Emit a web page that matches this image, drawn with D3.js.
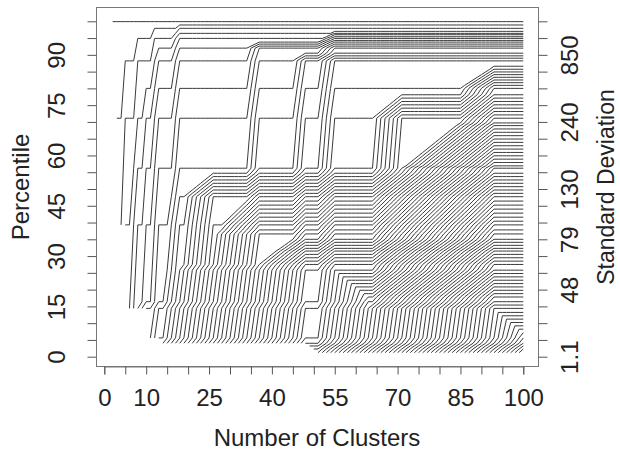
<!DOCTYPE html>
<html>
<head>
<meta charset="utf-8">
<script src="https://cdn.jsdelivr.net/npm/d3@7"></script>
<style>
  body { margin: 0; background: #fff; }
  text { font-family: "Liberation Sans", Arial, sans-serif; fill: #222; }
</style>
</head>
<body>
<div id="chart"></div>
<script>
// canvas
const width = 620,
  height = 451

// axis ticks and labels
const tickVals = d3.range(0, 101, 5)
const xLabels = [0, 10, 25, 40, 55, 70, 85, 100]
const leftLabels = [0, 15, 30, 45, 60, 75, 90]
const rightPos = [0, 20, 35, 50, 70, 90]
const rightText = ['1.1', '48', '79', '130', '240', '850']

// percentile of the cluster that appears at each number of clusters (from k = 2)
const firstK = 2
const earlyLevels = [99.9, 71.1, 39.3, 88.2, 14.4, 56.2, 94.9, 16.4, 80, 5.6,
  97.9, 92, 4, 25.8, 47.7, 96.4, 98.9, 27.5]
const midLevels = [48.7, 49.7, 50.7, 51.7, 52.7, 53.7, 54.7,
  36.6, 37.8, 40.4, 41.6, 42.8, 44, 45.2, 46.4,
  92.6, 93.2, 93.8,
  28.5, 29.5, 30.5, 31.5, 32.3, 33.2, 34.1, 35,
  89, 89.7, 90.5,
  3.2, 2.3, 1.2]
const lateLevels = [94.3, 95.4, 96, 97,
  24.8, 23.8, 22.8, 21.8, 20.8, 19.8, 18.8, 17.8, 15.4,
  72.1, 73.1, 74.1, 75.1, 76.1, 77.1, 78.1,
  56.9, 57.9, 58.9, 59.9, 60.9, 61.9, 62.9, 63.9, 64.9, 65.9, 66.9, 67.9, 68.9, 69.7,
  80.9, 81.7, 82.5, 83.3, 84.1, 84.9, 85.7, 86.6,
  13.2, 12.2, 11.2, 10.2, 9.2, 8.2, 7.2]
const added = earlyLevels.concat(midLevels, lateLevels)

const svg = d3.select('#chart')
  .append('svg')
  .attr('width', width)
  .attr('height', height)

const x = d3.scaleLinear().domain([0, 100]).range([104.3, 523.3])
const y = d3.scaleLinear().domain([0, 100]).range([356.7, 21.3])

// tracks: i-th largest level at each k
let levels = []
const tracks = []
added.forEach((v, j) => {
  const k = firstK + j
  levels.push(v)
  levels.sort((a, b) => b - a)
  levels.forEach((p, i) => {
    if (!tracks[i]) tracks[i] = []
    tracks[i].push([k, p])
  })
})

const line = d3.line()
  .x(d => x(d[0]))
  .y(d => y(d[1]))

svg.append('g')
  .selectAll('path')
  .data(tracks)
  .enter()
  .append('path')
  .attr('d', line)
  .attr('fill', 'none')
  .attr('stroke', '#3a3a3a')
  .attr('stroke-width', 1)

// box
svg.append('rect')
  .attr('x', 96.5)
  .attr('y', 7.5)
  .attr('width', 442)
  .attr('height', 359)
  .attr('fill', 'none')
  .attr('stroke', '#777')

// axes
const fmt = (list) => (d) => list.indexOf(d) >= 0 ? d : ''

const xAxis = d3.axisBottom(x)
  .tickValues(tickVals)
  .tickSize(8)
  .tickFormat(fmt(xLabels))

svg.append('g')
  .attr('transform', 'translate(0,366.5)')
  .call(xAxis)
  .call(g => g.select('.domain').attr('stroke', '#777'))
  .call(g => g.selectAll('.tick line').attr('stroke', '#555'))
  .call(g => g.selectAll('.tick text')
    .attr('y', 22)
    .style('font-size', '24px')
    .attr('fill', '#222'))

const yAxis = d3.axisLeft(y)
  .tickValues(tickVals)
  .tickSize(9)
  .tickFormat(fmt(leftLabels))

svg.append('g')
  .attr('transform', 'translate(96.5,0)')
  .call(yAxis)
  .call(g => g.select('.domain').remove())
  .call(g => g.selectAll('.tick line').attr('stroke', '#555'))
  .call(g => g.selectAll('.tick text')
    .attr('x', 0)
    .attr('dy', 0)
    .attr('transform', 'translate(-32,0) rotate(-90)')
    .attr('text-anchor', 'middle')
    .style('font-size', '24px')
    .attr('fill', '#222'))

const yRight = d3.axisRight(y)
  .tickValues(tickVals)
  .tickSize(9)
  .tickFormat(d => {
    const i = rightPos.indexOf(d)
    return i >= 0 ? rightText[i] : ''
  })

svg.append('g')
  .attr('transform', 'translate(538.5,0)')
  .call(yRight)
  .call(g => g.select('.domain').remove())
  .call(g => g.selectAll('.tick line').attr('stroke', '#555'))
  .call(g => g.selectAll('.tick text')
    .attr('x', 0)
    .attr('dy', 0)
    .attr('transform', 'translate(39,0) rotate(-90)')
    .attr('text-anchor', 'middle')
    .style('font-size', '24px')
    .attr('fill', '#222'))

// titles
svg.append('text')
  .attr('x', 317)
  .attr('y', 446)
  .attr('text-anchor', 'middle')
  .style('font-size', '24px')
  .text('Number of Clusters')

svg.append('text')
  .attr('transform', 'translate(29,187) rotate(-90)')
  .attr('text-anchor', 'middle')
  .style('font-size', '24px')
  .text('Percentile')

svg.append('text')
  .attr('transform', 'translate(614,187) rotate(-90)')
  .attr('text-anchor', 'middle')
  .style('font-size', '23px')
  .text('Standard Deviation')
</script>
</body>
</html>
